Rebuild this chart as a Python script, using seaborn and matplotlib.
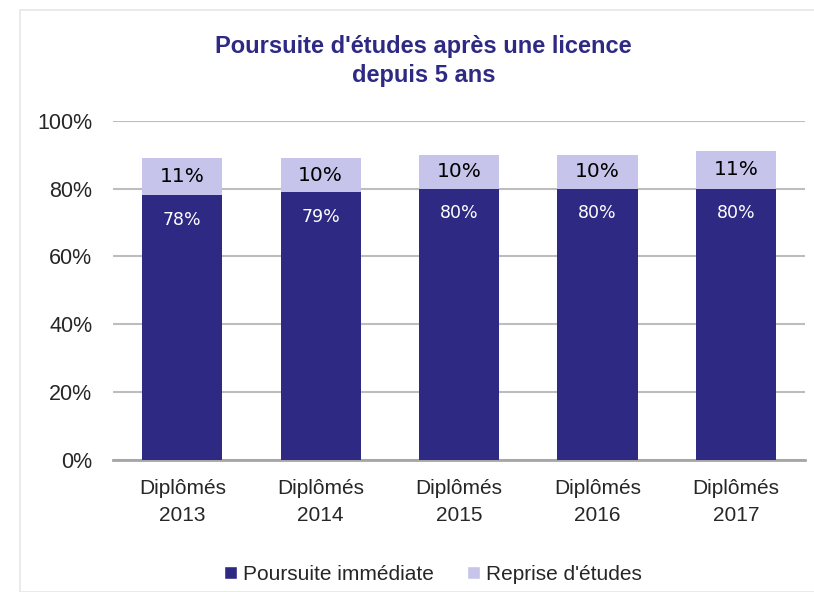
import matplotlib
matplotlib.use("Agg")
import matplotlib.pyplot as plt
import seaborn as sns
import pandas as pd
from matplotlib.patches import Rectangle, Patch

# =========================
# DATA
# =========================

categories = ["Diplômés\n2013", "Diplômés\n2014", "Diplômés\n2015",
              "Diplômés\n2016", "Diplômés\n2017"]
poursuite_immediate = [78, 79, 80, 80, 80]
reprise_etudes = [11, 10, 10, 10, 11]
series_names = ["Poursuite immédiate", "Reprise d'études"]
y_ticks = [0, 20, 40, 60, 80, 100]

dark = "#2E2A84"
light = "#C7C4EB"

df = pd.DataFrame({
    "cat": categories,
    "imm": poursuite_immediate,
    "rep": reprise_etudes,
})
df["total"] = df["imm"] + df["rep"]

# =========================
# FIGURE
# =========================

sns.set_style("white")
plt.rcParams["font.family"] = ["Liberation Sans", "DejaVu Sans"]

fig = plt.figure(figsize=(8.14, 5.92), dpi=100)
fig.patches.append(Rectangle((20 / 814, 0), 1, 1 - 10 / 592, transform=fig.transFigure,
                             facecolor="none", edgecolor="#E6E6E6", linewidth=1.2, zorder=-1))
ax = fig.add_axes([0.139, 0.223, 0.850, 0.573])

sns.barplot(data=df, x="cat", y="total", color=light, width=0.58,
            saturation=1, linewidth=0, ax=ax, zorder=2)
sns.barplot(data=df, x="cat", y="imm", color=dark, width=0.58,
            saturation=1, linewidth=0, ax=ax, zorder=3)

# labels
for i, row in df.iterrows():
    ax.text(i, row["imm"] - 7.3, f"{row['imm']}%", ha="center", va="center",
            color="white", fontsize=12.5, family="DejaVu Sans", zorder=4)
    ax.text(i, row["imm"] + row["rep"] / 2, f"{row['rep']}%", ha="center", va="center",
            color="black", fontsize=14.5, family="DejaVu Sans", zorder=4)

# axes
ax.set_ylim(0, 100)
ax.set_yticks(y_ticks)
ax.set_yticklabels([f"{t}%" for t in y_ticks], fontsize=15.5)
ax.tick_params(axis="x", labelsize=15, length=0, pad=14)
ax.tick_params(axis="y", length=0, pad=15)
for lbl in ax.get_xticklabels():
    lbl.set_linespacing(1.5)
ax.set_xlabel("")
ax.set_ylabel("")
ax.set_xlim(-0.5, 4.5)
ax.yaxis.grid(True, color="#BDBDBD", linewidth=1.5, zorder=0)
ax.set_axisbelow(True)
for side in ["top", "right", "left"]:
    ax.spines[side].set_visible(False)
ax.spines["bottom"].set_color("#A6A6A6")
ax.spines["bottom"].set_linewidth(2)
ax.patch.set_alpha(0)

# title
fig.text(0.52, 0.897, "Poursuite d'études après une licence\ndepuis 5 ans",
         ha="center", va="center", fontsize=17, fontweight="bold",
         color=dark, linespacing=1.35)

# legend
handles = [Patch(facecolor=dark, label=series_names[0]),
           Patch(facecolor=light, label=series_names[1])]
fig.legend(handles=handles, loc="center", bbox_to_anchor=(0.532, 0.03), ncol=2,
           frameon=False, fontsize=15, handlelength=0.6, handleheight=0.6,
           handletextpad=0.3, columnspacing=1.6)

fig.savefig("out.png", dpi=100)
